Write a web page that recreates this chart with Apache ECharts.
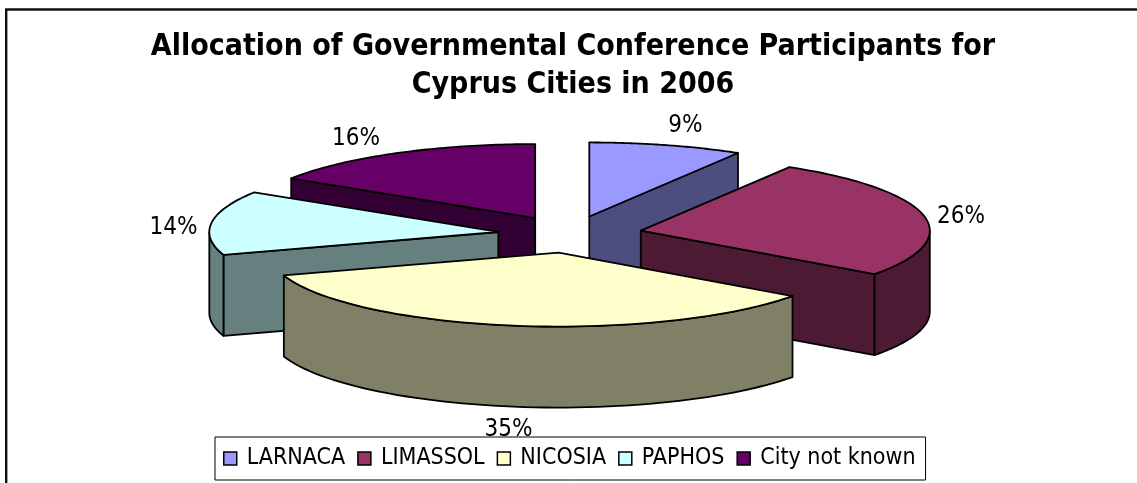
<!DOCTYPE html>
<html><head><meta charset="utf-8">
<style>html,body{margin:0;padding:0;background:#fff}#c{width:1137px;height:483px}</style>
<script src="https://cdn.jsdelivr.net/npm/echarts@6/dist/echarts.min.js"></script>
</head><body><div id="c"></div>
<script>
const cities = ['LARNACA','LIMASSOL','NICOSIA','PAPHOS','City not known'];
const shares = [8.6,26.4,35,14,16];
const topColors = ['#9999FF','#993366','#FFFFCC','#CCFFFF','#660066'];
const sideColors = ['#4D4D80','#4D1A33','#808066','#668080','#330033'];
const labelOffsets = [[19,-19],[37,1],[-5,23],[-38,5],[-40,-14]];
const titleLines = 'Allocation of Governmental Conference Participants for\nCyprus Cities in 2006';
const FONT = '"DejaVu Sans Condensed","DejaVu Sans",sans-serif';
const pie = {cx:570, cy:234.3, rx:289, ry:74, depth:81, explode:0.25};
const total = shares.reduce((a,b)=>a+b,0);
const rad = d=>d*Math.PI/180;

function sliceGeom(i){
  let before = 0; for(let k=0;k<i;k++) before += shares[k];
  const a0 = before/total*360, a1 = (before+shares[i])/total*360, mid=(a0+a1)/2;
  const ax = pie.cx + pie.explode*pie.rx*Math.sin(rad(mid));
  const ay = pie.cy - pie.explode*pie.ry*Math.cos(rad(mid));
  const at = t=>[ax+pie.rx*Math.sin(rad(t)), ay-pie.ry*Math.cos(rad(t))];
  return {a0,a1,mid,ax,ay,at};
}
const order = cities.map((_,i)=>i).sort((p,q)=>sliceGeom(p).ay-sliceGeom(q).ay);
const lineStyle = {stroke:'#000',lineWidth:1.8,lineJoin:'round'};

function renderSlice(params, api){
  const i = params.seriesIndex;
  const g = sliceGeom(i), A=[g.ax,g.ay], children=[], z=order.indexOf(i)*10+10;
  const down = p=>[p[0],p[1]+pie.depth];
  const quad = (pts,k)=>children.push({type:'polygon',z2:z+k,shape:{points:pts},
    style:Object.assign({fill:sideColors[i]},lineStyle)});
  const S=g.at(g.a0), E=g.at(g.a1);
  if(S[0]<A[0]-0.5) quad([A,S,down(S),down(A)],1);
  if(E[0]>A[0]+0.5) quad([E,A,down(A),down(E)],1);
  const v0=Math.max(g.a0,90), v1=Math.min(g.a1,270);
  if(v1>v0){
    const up=[],lo=[];
    for(let t=v0;t<=v1+1e-6;t+=(v1-v0)/60){const p=g.at(t);up.push(p);lo.unshift(down(p));}
    quad(up.concat(lo),2);
  }
  const top=[A];
  for(let t=g.a0;t<=g.a1+1e-6;t+=(g.a1-g.a0)/60) top.push(g.at(t));
  children.push({type:'polygon',z2:z+3,shape:{points:top},style:Object.assign({fill:topColors[i]},lineStyle)});
  const base = g.mid>90&&g.mid<270 ? [g.ax+pie.rx*Math.sin(rad(g.mid)),g.ay-pie.ry*Math.cos(rad(g.mid))+pie.depth] : g.at(g.mid);
  children.push({type:'text',z2:200,style:{
    x:base[0]+labelOffsets[i][0], y:base[1]+labelOffsets[i][1],
    text:Math.round(api.value(0)/total*100)+'%',
    font:'24px '+FONT, fill:'#000', align:'center', verticalAlign:'middle'}});
  return {type:'group',children};
}

const chart = echarts.init(document.getElementById('c'),null,{renderer:'canvas'});
chart.setOption({
  animation:false,
  backgroundColor:'#fff',
  title:{text:titleLines,left:568,top:23,textAlign:'center',
    textStyle:{fontFamily:FONT,fontSize:30,fontWeight:'bold',color:'#000',lineHeight:38}},
  legend:{left:215,top:437,width:711,orient:'horizontal',icon:'rect',
    itemWidth:13,itemHeight:13,itemGap:12,padding:[10,10,10,8],
    borderColor:'#000',borderWidth:1,backgroundColor:'#fff',
    itemStyle:{borderColor:'#000',borderWidth:1.5},
    data:cities,textStyle:{fontFamily:FONT,fontSize:23,color:'#000',padding:[0,0,0,5]}},
  graphic:[{type:'polyline',z:-1,silent:true,shape:{points:[[6.2,483],[6.2,9.5],[1137,9.5]]},
    style:{stroke:'#111',lineWidth:2.4,fill:null}}],
  series:cities.map((name,i)=>({
    type:'custom',name,coordinateSystem:'none',renderItem:renderSlice,
    itemStyle:{color:topColors[i]},clip:false,data:[[shares[i]]]
  }))
});
</script></body></html>
